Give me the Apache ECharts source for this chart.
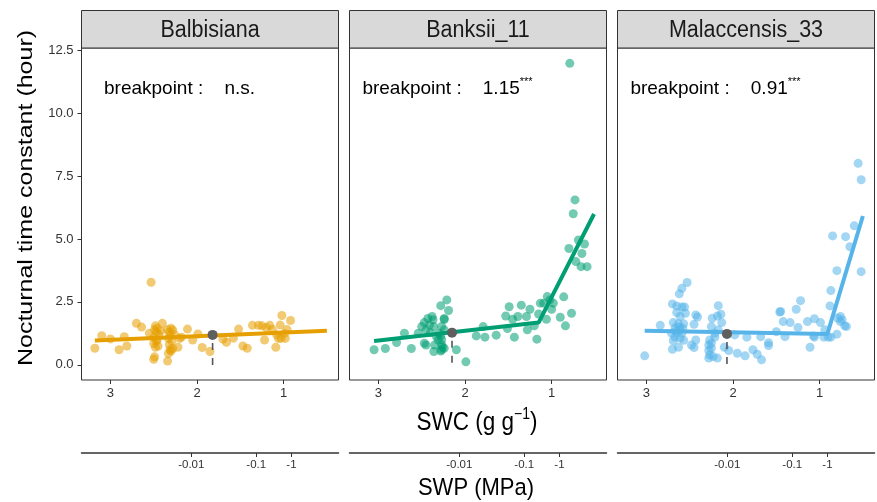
<!DOCTYPE html>
<html><head><meta charset="utf-8">
<script src="https://cdn.jsdelivr.net/npm/echarts@6/dist/echarts.min.js"></script>
<style>html,body{margin:0;padding:0;background:#fff}#c{width:877px;height:502px}</style>
</head><body><div id="c"></div>
<script>
// ---- data ----
const panels = ['Balbisiana', 'Banksii_11', 'Malaccensis_33'];
const colors = ['#E69F00', '#009E73', '#56B4E9'];
const breakpointLabels = ['n.s.', '1.15', '0.91'];
const signifLabels = ['', '***', '***'];
const swcTicks = [3, 2, 1];
const tauTicks = [0, 2.5, 5, 7.5, 10, 12.5];
const swpTickSWC = [2.066, 1.316, 0.909];
const swpTickLabels = ['-0.01', '-0.1', '-1'];

const balbisianaPts = [[3.18,0.66],[3.10,1.16],[3.00,1.03],[2.90,0.60],[2.84,1.12],[2.81,0.75],[2.70,1.65],[2.64,1.50],[2.55,1.26],[2.53,3.28],
[2.50,1.10],[2.49,1.40],[2.48,1.55],[2.47,1.30],[2.46,1.00],[2.50,0.85],[2.48,0.70],[2.47,0.95],[2.49,0.32],[2.50,0.22],[2.46,1.45],[2.44,1.20],[2.45,0.75],[2.40,1.65],[2.42,1.35],
[2.34,1.40],[2.32,1.30],[2.30,1.45],[2.28,1.38],[2.33,1.05],[2.32,0.80],[2.31,0.60],[2.33,0.45],[2.30,0.55],[2.28,0.65],[2.34,0.15],[2.31,1.15],[2.29,0.95],[2.26,1.20],[2.22,0.70],[2.20,1.05],[2.18,1.10],
[2.11,1.42],[2.05,0.99],[1.99,1.23],[1.94,0.69],[1.85,0.53],[1.70,1.02],[1.66,0.90],[1.58,1.06],[1.52,1.42],[1.47,0.75],[1.42,0.66],[1.36,1.57],[1.29,1.57],[1.22,0.99],[1.25,1.55],[1.20,1.48],[1.16,1.57],[1.13,1.40],[1.09,0.70],[1.08,1.20],[1.06,1.05],[1.03,1.05],[1.02,1.96],[1.04,1.58],[0.99,1.25],[0.96,1.40],[0.92,1.76],[0.98,1.05]];

const banksiiPts = [[0.79,11.97],[0.73,6.55],[0.75,6.0],[0.69,4.96],[0.62,4.8],[0.80,4.62],[0.65,4.42],[0.72,4.1],[0.66,3.9],[0.59,3.9],
[1.05,2.71],[1.13,2.45],[1.09,2.45],[1.02,2.58],[0.98,2.45],[0.86,2.7],[1.00,2.21],[0.90,1.89],[0.77,2.05],[0.84,1.55],[1.06,1.81],[1.17,1.02],[1.20,1.55],[1.15,2.02],[1.25,2.21],[1.29,1.92],[1.35,2.37],[1.49,2.31],[1.53,1.94],[1.39,1.92],[1.45,1.81],[1.28,1.39],[1.51,1.44],[1.43,1.10],[1.64,1.18],[1.77,1.10],[1.79,1.52],[1.87,1.15],[1.99,0.12],[2.10,0.6],
[3.05,0.6],[2.92,0.65],[2.79,0.89],[2.70,1.26],[2.62,0.65],[2.54,1.26],
[2.21,2.58],[2.28,2.35],[2.19,2.16],[2.24,1.84],[2.38,1.92],[2.43,1.84],[2.47,1.68],[2.50,1.52],[2.45,1.39],[2.40,1.28],[2.36,1.52],[2.33,1.12],[2.30,1.26],[2.27,1.52],[2.24,1.39],[2.31,0.99],[2.35,0.79],[2.36,0.53],[2.27,0.60],[2.24,0.66],[2.47,0.86],[2.45,0.79],[2.37,1.79],[2.41,1.58],[2.27,1.0],[2.27,0.8],[2.28,1.15],[2.26,0.7],[2.28,0.55],[2.24,1.8]];

const malaccensisPts = [[0.555,8.0],[0.52,7.35],[0.60,5.52],[0.85,5.12],[0.70,5.09],[0.65,4.69],[0.80,3.74],[0.52,3.70],[0.87,2.95],[0.88,2.34],
[0.76,1.92],[0.79,1.85],[0.74,1.79],[0.71,1.55],[0.69,1.52],[0.76,1.72],[0.94,1.39],[0.87,1.10],[0.80,1.22],[0.90,1.10],[0.95,1.10],
[1.06,1.1],[1.07,1.15],[0.99,1.68],[1.06,1.83],[1.14,1.72],[1.25,1.48],[1.22,2.55],[1.27,2.21],[1.11,0.70],[1.34,1.68],[1.42,1.72],[1.45,2.12],[1.46,2.10],[1.50,1.32],[1.40,1.12],[1.59,0.88],[1.59,0.77],[1.67,0.2],[1.72,0.42],[1.77,0.6],[1.68,1.12],[1.84,1.10],[1.86,0.36],[1.95,0.46],[1.98,1.19],[2.05,0.57],[2.10,0.70],
[2.17,2.35],[2.14,2.01],[2.18,1.94],[2.24,1.85],[2.13,1.68],[2.25,1.52],[2.17,1.39],[2.21,1.26],[2.27,0.99],[2.28,0.79],[2.25,0.66],[2.28,0.57],[2.27,0.40],[2.23,0.33],[2.18,0.27],[2.28,0.27],[2.25,0.86],[2.21,1.10],
[2.53,3.27],[2.59,3.04],[2.62,2.82],[2.70,2.42],[2.65,2.34],[2.59,2.3],[2.56,2.3],[2.65,2.08],[2.55,2.05],[2.61,1.92],[2.43,1.98],[2.41,1.9],[2.69,1.68],[2.63,1.63],[2.57,1.63],[2.67,1.46],[2.61,1.39],[2.71,1.26],[2.65,1.26],[2.59,1.26],[2.67,1.10],[2.61,1.06],[2.69,0.96],[2.57,0.98],
[2.70,0.62],[2.63,0.70],[2.48,0.79],[2.45,0.69],[2.43,0.99],[2.45,1.61],[2.84,1.57],[3.02,0.36],[2.62,1.5],[2.66,1.35],[2.58,1.45]];

const balbisianaFit = [[3.18,0.97],[0.50,1.36]];
const banksiiFit = [[3.05,0.95],[1.15,1.68],[0.51,5.99]];
const malaccensisFit = [[3.02,1.36],[0.91,1.23],[0.50,5.91]];
const markerPts = [[1.82,1.19],[2.15,1.28],[2.07,1.23]];

const allPts = [balbisianaPts, banksiiPts, malaccensisPts];
const allFits = [balbisianaFit, banksiiFit, malaccensisFit];

// ---- layout ----
const FONT = "'Liberation Sans', Arial, sans-serif";
const PANEL_LEFT = [81.5, 349.5, 617.5];
const PANEL_W = 257;
const PANEL_TOP = 48;
const PANEL_H = 332;
const STRIP_TOP = 10.5;
const X_MIN = 0.366, X_MAX = 3.334;
const Y_MIN = -0.6, Y_MAX = 12.58;

const grid = [], xAxis = [], yAxis = [], series = [], graphic = [];

panels.forEach((name, i) => {
  grid.push({left: PANEL_LEFT[i], top: PANEL_TOP, width: PANEL_W, height: PANEL_H,
    show: true, borderColor: '#333', borderWidth: 1, backgroundColor: '#fff'});
  xAxis.push({gridIndex: i, type: 'value', min: X_MIN, max: X_MAX, inverse: true, position: 'bottom',
    axisLine: {show: false, onZero: false},
    axisTick: {show: true, length: 4, customValues: swcTicks, lineStyle: {color: '#333', width: 1}},
    axisLabel: {customValues: swcTicks, color: '#333', fontSize: 13, fontFamily: FONT, margin: 7},
    splitLine: {show: false}});
  xAxis.push({gridIndex: i, type: 'value', min: X_MIN, max: X_MAX, inverse: true, position: 'bottom', offset: 73,
    axisLine: {show: true, onZero: false, lineStyle: {color: '#333', width: 1.5}},
    axisTick: {show: true, length: 4, customValues: swpTickSWC, lineStyle: {color: '#333', width: 1}},
    axisLabel: {customValues: swpTickSWC, color: '#333', fontSize: 11.5, fontFamily: FONT, margin: 6,
      formatter: v => {
        let best = 0;
        swpTickSWC.forEach((t, k) => { if (Math.abs(t - v) < Math.abs(swpTickSWC[best] - v)) best = k; });
        return swpTickLabels[best];
      }},
    splitLine: {show: false}});
  yAxis.push({gridIndex: i, type: 'value', min: Y_MIN, max: Y_MAX,
    axisLine: {show: false, onZero: false},
    axisTick: {show: i === 0, length: 4, customValues: tauTicks, lineStyle: {color: '#333', width: 1}},
    axisLabel: {show: i === 0, customValues: tauTicks, formatter: v => v.toFixed(1), color: '#333', fontSize: 13, fontFamily: FONT, margin: 8},
    splitLine: {show: false}});

  series.push({type: 'scatter', xAxisIndex: 2 * i, yAxisIndex: i, data: allPts[i], symbolSize: 9,
    itemStyle: {color: colors[i], opacity: 0.55}, z: 2, silent: true});
  series.push({type: 'line', xAxisIndex: 2 * i, yAxisIndex: i, data: allFits[i], showSymbol: false,
    lineStyle: {color: colors[i], width: 4}, z: 3, silent: true});
  series.push({type: 'line', xAxisIndex: 2 * i, yAxisIndex: i,
    data: [markerPts[i], [markerPts[i][0], 0]], showSymbol: false,
    lineStyle: {color: '#555', width: 1.6, type: [7, 8], dashOffset: 7}, z: 4, silent: true});
  series.push({type: 'scatter', xAxisIndex: 2 * i, yAxisIndex: i, data: [markerPts[i]], symbolSize: 10,
    itemStyle: {color: '#5f5f5f', opacity: 1}, z: 5, silent: true});

  // strip
  graphic.push({type: 'rect', shape: {x: PANEL_LEFT[i], y: STRIP_TOP, width: PANEL_W, height: PANEL_TOP - STRIP_TOP},
    style: {fill: '#D9D9D9', stroke: '#333', lineWidth: 1}, z: 10});
  graphic.push({type: 'text', x: PANEL_LEFT[i] + PANEL_W / 2, y: (STRIP_TOP + PANEL_TOP) / 2 + 1, scaleY: 1.1,
    style: {text: name, fontSize: 21.5, fontFamily: FONT, fill: '#1a1a1a',
      align: 'center', verticalAlign: 'middle', textAlign: 'center', textVerticalAlign: 'middle'}, z: 11});
  // breakpoint annotation
  const txt = '{a|breakpoint :    ' + breakpointLabels[i] + '}' + (signifLabels[i] ? '{s|' + signifLabels[i] + '}' : '');
  graphic.push({type: 'text', x: PANEL_LEFT[i] + 98, y: 89,
    style: {text: txt, align: 'center', verticalAlign: 'middle', textAlign: 'center', textVerticalAlign: 'middle',
      rich: {a: {fontSize: 19, fontFamily: FONT, fill: '#000', lineHeight: 26},
             s: {fontSize: 11, fontFamily: FONT, fill: '#000', lineHeight: 11, verticalAlign: 'top'}}}, z: 11});
});

// axis titles
graphic.push({type: 'text', x: 26, y: 198, rotation: Math.PI / 2, scaleX: 1.19,
  style: {text: 'Nocturnal time constant (hour)', fontSize: 21, fontFamily: FONT, fill: '#000',
    align: 'center', verticalAlign: 'middle', textAlign: 'center', textVerticalAlign: 'middle'}});
graphic.push({type: 'text', x: 477, y: 423, scaleY: 1.12,
  style: {text: '{a|SWC (g g}{s|\u22121}{a|)}', align: 'center', verticalAlign: 'middle', textAlign: 'center', textVerticalAlign: 'middle',
    rich: {a: {fontSize: 22.5, fontFamily: FONT, fill: '#000', lineHeight: 29},
           s: {fontSize: 14, fontFamily: FONT, fill: '#000', lineHeight: 14, verticalAlign: 'top'}}}});
graphic.push({type: 'text', x: 476, y: 488, scaleY: 1.12,
  style: {text: 'SWP (MPa)', fontSize: 22, fontFamily: FONT, fill: '#000',
    align: 'center', verticalAlign: 'middle', textAlign: 'center', textVerticalAlign: 'middle'}});

const chart = echarts.init(document.getElementById('c'), null, {renderer: 'canvas'});
chart.setOption({animation: false, backgroundColor: '#fff', grid, xAxis, yAxis, series, graphic});
</script></body></html>
